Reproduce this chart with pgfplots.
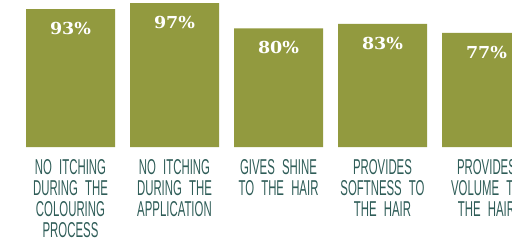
\documentclass[border=0pt]{standalone}
\usepackage{pgfplots}
\pgfplotsset{compat=1.18}
\usepackage{fontspec}
\newfontfamily\labelfont[FakeStretch=0.53, WordSpace=0.7]{Liberation Sans}
\newfontfamily\valuefont[FakeStretch=1.06]{DejaVu Serif Bold}
\definecolor{olivebar}{HTML}{929A3F}
\definecolor{tealtext}{HTML}{2F5D58}
\begin{document}
\begin{tikzpicture}
\begin{axis}[
  at={(0pt,97pt)}, anchor=south west,
  scale only axis, width=512pt, height=147pt,
  xmin=-0.6779, xmax=4.2452,
  ymin=0, ymax=99.12,
  ybar, bar width=89pt,
  axis line style={draw=none},
  tick style={draw=none},
  ytick=\empty,
  xtick={0,1,2,3,4},
  xticklabels={{NO ITCHING\\DURING THE\\COLOURING\\PROCESS},
               {NO ITCHING\\DURING THE\\APPLICATION},
               {GIVES SHINE\\TO THE HAIR},
               {PROVIDES\\SOFTNESS TO\\THE HAIR},
               {PROVIDES\\VOLUME TO\\THE HAIR}},
  xticklabel style={anchor=north, yshift=-8pt, text width=100pt, align=center,
    font=\labelfont\fontsize{21.5}{21}\selectfont, text=tealtext, inner sep=0pt},
  point meta=explicit symbolic,
  nodes near coords={\valuefont\pgfplotspointmeta\%},
  every node near coord/.append style={anchor=north, yshift=-13pt, inner sep=0pt,
    text=white, font=\fontsize{16.5}{17}\selectfont},
]
\addplot[fill=olivebar, draw=none] coordinates {
  (0,93) [93]
  (1,97) [97]
  (2,80) [80]
  (3,83) [83]
  (4,77) [77]
};
\end{axis}
\pgfresetboundingbox
\useasboundingbox (0,0) rectangle (512pt,244pt);
\end{tikzpicture}
\end{document}
